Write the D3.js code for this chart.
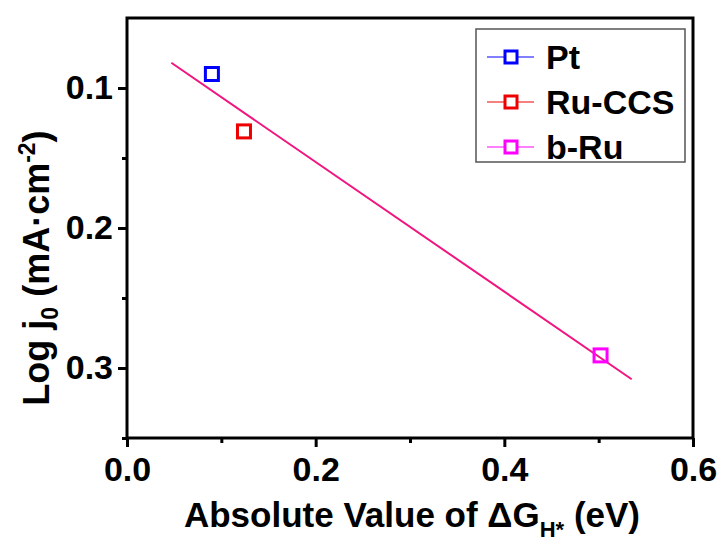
<!DOCTYPE html>
<html>
<head>
<meta charset="utf-8">
<script src="https://cdn.jsdelivr.net/npm/d3@7"></script>
<style>
  body { margin: 0; background: #fff; }
  text { font-family: "Liberation Sans", Arial, sans-serif; font-weight: bold; }
</style>
</head>
<body>
<script>
// data
const names = ["Pt", "Ru-CCS", "b-Ru"];
const colors = ["#0000ff", "#ee0000", "#ff00ff"];
const dG = [0.090, 0.124, 0.502];
const logJ0 = [0.090, 0.131, 0.291];
// linear fit end points
const fitX = [0.047, 0.535];
const fitY = [0.082, 0.308];
const xTicks = [0.0, 0.2, 0.4, 0.6];
const yTicks = [0.1, 0.2, 0.3];

const width = 725, height = 541;
const m = { left: 127, right: 32, top: 18, bottom: 103 };

const svg = d3.select("body").append("svg")
    .attr("width", width)
    .attr("height", height);

const x = d3.scaleLinear().domain([0, 0.6]).range([m.left, width - m.right]);
// inverted axis: small values on top
const y = d3.scaleLinear().domain([0.05, 0.35]).range([m.top, height - m.bottom]);

// minor ticks
const xAxisMinor = d3.axisBottom(x).tickValues([0.1, 0.3, 0.5]).tickSize(5).tickFormat("");
const yAxisMinor = d3.axisLeft(y).tickValues([0.15, 0.25, 0.35]).tickSize(5).tickFormat("");
svg.append("g").attr("transform", `translate(0,${y.range()[1]})`).call(xAxisMinor);
svg.append("g").attr("transform", `translate(${m.left},0)`).call(yAxisMinor);

const xAxis = d3.axisBottom(x).tickValues(xTicks).tickSize(9).tickPadding(7).tickFormat(d3.format(".1f"));
const yAxis = d3.axisLeft(y).tickValues(yTicks).tickSize(9).tickPadding(5).tickFormat(d3.format(".1f"));
svg.append("g").attr("class", "xa").attr("transform", `translate(0,${y.range()[1]})`).call(xAxis);
svg.append("g").attr("class", "ya").attr("transform", `translate(${m.left},0)`).call(yAxis);

svg.selectAll(".domain").remove();
svg.selectAll(".tick line").attr("stroke", "#000").attr("stroke-width", 3);
svg.selectAll(".tick text").attr("font-size", 34).attr("fill", "#000");
svg.selectAll(".xa .tick text").attr("dy", "0.8em");

// frame
svg.append("rect")
    .attr("x", m.left).attr("y", m.top)
    .attr("width", x.range()[1] - m.left)
    .attr("height", y.range()[1] - m.top)
    .attr("fill", "none").attr("stroke", "#000").attr("stroke-width", 3);

// fit line
svg.append("line")
    .attr("x1", x(fitX[0])).attr("y1", y(fitY[0]))
    .attr("x2", x(fitX[1])).attr("y2", y(fitY[1]))
    .attr("stroke", "#f0157f").attr("stroke-width", 2);

// points
const s = 13;
svg.selectAll(".pt").data(dG).enter().append("rect")
    .attr("class", "pt")
    .attr("x", d => x(d) - s / 2)
    .attr("y", (d, i) => y(logJ0[i]) - s / 2)
    .attr("width", s).attr("height", s)
    .attr("fill", "none")
    .attr("stroke", (d, i) => colors[i])
    .attr("stroke-width", 3);

// legend
svg.append("rect")
    .attr("x", 476).attr("y", 29).attr("width", 209).attr("height", 133)
    .attr("fill", "#fff").attr("stroke", "#555").attr("stroke-width", 1.5);
const leg = svg.selectAll(".leg").data(names).enter().append("g")
    .attr("transform", (d, i) => `translate(0,${57 + i * 45})`);
leg.append("line")
    .attr("x1", 487).attr("x2", 534)
    .attr("stroke", (d, i) => colors[i]).attr("stroke-width", 1.2);
leg.append("rect")
    .attr("x", 511 - 6).attr("y", -6).attr("width", 12).attr("height", 12)
    .attr("fill", "#fff").attr("stroke", (d, i) => colors[i]).attr("stroke-width", 3);
leg.append("text")
    .attr("x", 546).attr("dy", "0.36em")
    .attr("font-size", 34)
    .text(d => d);

// x title
const xt = svg.append("text")
    .attr("x", (m.left + x.range()[1]) / 2 + 2).attr("y", 527)
    .attr("text-anchor", "middle").attr("font-size", 35);
xt.append("tspan").text("Absolute Value of ΔG");
xt.append("tspan").attr("font-size", 22).attr("dy", 10).text("H*");
xt.append("tspan").attr("dy", -10).text(" (eV)");

// y title
const yt = svg.append("text")
    .attr("transform", `translate(49,${(m.top + y.range()[1]) / 2 + 40}) rotate(-90)`)
    .attr("text-anchor", "middle").attr("font-size", 36);
yt.append("tspan").text("Log j");
yt.append("tspan").attr("font-size", 23).attr("dy", 9).text("0");
yt.append("tspan").attr("dy", -9).text(" (mA·cm");
yt.append("tspan").attr("font-size", 23).attr("dy", -14).text("-2");
yt.append("tspan").attr("dy", 14).text(")");
</script>
</body>
</html>
